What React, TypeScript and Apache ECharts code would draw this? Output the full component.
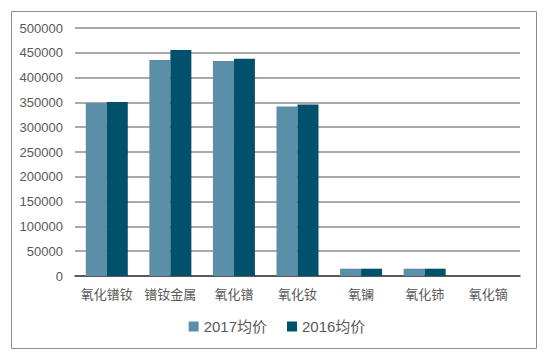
import React, { useEffect, useRef } from "react";
import * as echarts from "echarts";

const categories = ["氧化镨钕", "镨钕金属", "氧化镨", "氧化钕", "氧镧", "氧化铈", "氧化镝"];
const price2017 = [349000, 435500, 433500, 341500, 14700, 14700, 0];
const price2016 = [351000, 455500, 438000, 346000, 14700, 14700, 0];
const yTicks = [0, 50000, 100000, 150000, 200000, 250000, 300000, 350000, 400000, 450000, 500000];

export default function App() {
  const ref = useRef<HTMLDivElement>(null);
  useEffect(() => {
    document.body.style.margin = "0";
    const chart = echarts.init(ref.current!, null, { renderer: "svg" });
    chart.setOption({
      animation: false,
      backgroundColor: "#ffffff",
      graphic: [
        {
          type: "rect",
          shape: { x: 11.5, y: 11.5, width: 525, height: 337 },
          style: { fill: "none", stroke: "#8c8c8c", lineWidth: 1 },
          silent: true,
        },
      ],
      grid: { left: 75, right: 34, top: 28, bottom: 80, containLabel: false },
      legend: {
        bottom: 17,
        left: "center",
        itemWidth: 10,
        itemHeight: 10,
        itemGap: 20,
        icon: "rect",
        textStyle: { fontSize: 15, color: "#595959", fontFamily: "Liberation Sans, Noto Sans CJK SC" },
        data: ["2017均价", "2016均价"],
      },
      xAxis: {
        type: "category",
        data: categories,
        axisLine: { lineStyle: { color: "#404040", width: 1.5 } },
        axisTick: { show: false },
        axisLabel: { interval: 0, fontSize: 13, color: "#595959", margin: 11, fontFamily: "Noto Sans CJK SC" },
      },
      yAxis: {
        type: "value",
        min: yTicks[0],
        max: yTicks[yTicks.length - 1],
        interval: 50000,
        axisLine: { show: false },
        axisTick: { show: false },
        splitLine: { lineStyle: { color: "#8c8c8c", width: 1.5 } },
        axisLabel: {
          fontSize: 13,
          color: "#595959",
          margin: 12,
          fontFamily: "Liberation Sans",
          formatter: (v: number) => String(v),
        },
      },
      series: [
        {
          name: "2017均价",
          type: "bar",
          data: price2017,
          barWidth: 21,
          barGap: "0%",
          itemStyle: { color: "#5b8fa7" },
        },
        {
          name: "2016均价",
          type: "bar",
          data: price2016,
          barWidth: 21,
          barGap: "0%",
          itemStyle: { color: "#02516c" },
        },
      ],
    });
    return () => chart.dispose();
  }, []);
  return <div ref={ref} style={{ width: 554, height: 356 }} />;
}
